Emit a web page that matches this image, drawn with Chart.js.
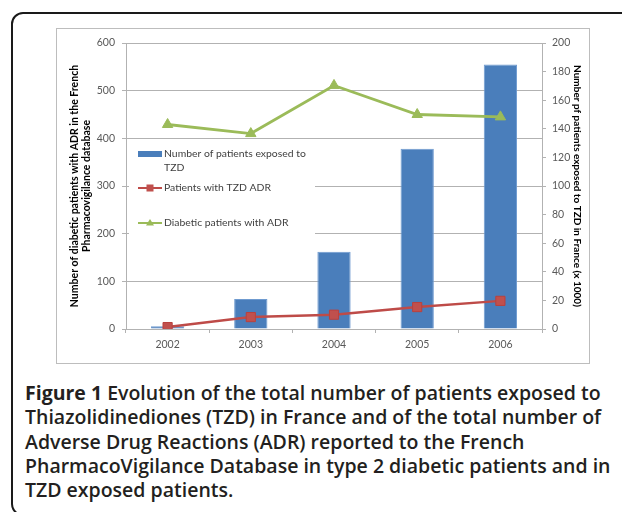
<!DOCTYPE html>
<html>
<head>
<meta charset="utf-8">
<script src="https://cdn.jsdelivr.net/npm/chart.js@4/dist/chart.umd.min.js"></script>
<style>
  html, body { margin: 0; padding: 0; background: #fff; }
  body { width: 622px; height: 512px; position: relative; overflow: hidden; }
  #frame {
    position: absolute; left: 11px; top: 12px; width: 700px; height: 500px;
    border: 2px solid #1a1a1a; border-radius: 12px;
  }
  #box {
    position: absolute; left: 56px; top: 28px; width: 532px; height: 334px;
    border: 1px solid #bdbdbd;
  }
  #chart { display: block; }
  #caption {
    position: absolute; left: 25px; top: 381px; width: 596px;
    font-family: "Open Sans", Lato, sans-serif; font-size: 19.5px; line-height: 24.3px;
    font-weight: 600; color: #231f20; white-space: nowrap;
  }
  #caption b { font-weight: 700; }
</style>
</head>
<body>
<div id="frame"></div>
<div id="box"><canvas id="chart" width="532" height="334"></canvas></div>
<div id="caption">
  <b>Figure 1</b> Evolution of the total number of patients exposed to<br>
  Thiazolidinediones (TZD) in France and of the total number of<br>
  Adverse Drug Reactions (ADR) reported to the French<br>
  PharmacoVigilance Database in type 2 diabetic patients and in<br>
  TZD exposed patients.
</div>
<script>
// 데이터
const years = ['2002', '2003', '2004', '2005', '2006'];
const exposedThousands = [2, 21, 54, 126, 185];   // 오른쪽 축 (x 1000)
const tzdAdr = [4, 25, 30, 46, 59];               // 왼쪽 축
const diabeticAdr = [429, 410, 511, 450, 445];    // 왼쪽 축

const legendLabels = [
  ['Number of patients exposed to', 'TZD'],
  ['Patients with TZD ADR'],
  ['Diabetic patients with ADR']
];

const leftTitle = ['Number of diabetic patients with ADR in the French', 'Pharmacovigilance database'];
const rightTitle = 'Number pf patients exposed to TZD in France (x 1000)';

const BLUE = '#4a7ebb';
const RED = '#be4b48';
const GREEN = '#9bbb59';
const GRID = '#b2b2b2';
const TICK = '#595959';
const FONT = 'Lato, "Open Sans", sans-serif';

Chart.defaults.font.family = FONT;
Chart.defaults.font.size = 10.5;
Chart.defaults.color = TICK;

// 차트 영역 안쪽 범례 (엑셀 스타일)
const insideLegend = {
  id: 'insideLegend',
  beforeDatasetsDraw(chart) {
    // 범례 뒤 흰 배경 (격자선 가림)
    const ctx = chart.ctx;
    ctx.save();
    ctx.fillStyle = '#fff';
    ctx.fillRect(72, 113, 186, 98);
    ctx.restore();
  },
  afterDatasetsDraw(chart) {
    const ctx = chart.ctx;
    const x0 = 81, x1 = 105, tx = 107;
    const rows = [125, 159, 194];
    ctx.save();

    // 막대
    ctx.fillStyle = BLUE;
    ctx.fillRect(x0, rows[0] - 3, x1 - x0, 6);

    // 빨간 선 + 사각형
    ctx.strokeStyle = RED;
    ctx.lineWidth = 2;
    ctx.beginPath(); ctx.moveTo(x0, rows[1]); ctx.lineTo(x1, rows[1]); ctx.stroke();
    ctx.fillStyle = '#c0504d';
    ctx.fillRect(89.5, rows[1] - 3.5, 7, 7);

    // 초록 선 + 삼각형
    ctx.strokeStyle = GREEN;
    ctx.beginPath(); ctx.moveTo(x0, rows[2]); ctx.lineTo(x1, rows[2]); ctx.stroke();
    ctx.fillStyle = GREEN;
    ctx.beginPath();
    ctx.moveTo(93, rows[2] - 4); ctx.lineTo(97, rows[2] + 2.5); ctx.lineTo(89, rows[2] + 2.5);
    ctx.closePath(); ctx.fill();

    ctx.font = '10.4px ' + FONT;
    ctx.fillStyle = '#404040';
    ctx.textBaseline = 'middle';
    ctx.textAlign = 'left';
    legendLabels.forEach((lines, i) => {
      lines.forEach((t, j) => ctx.fillText(t, tx, rows[i] + j * 13.5));
    });
    ctx.restore();
  }
};

new Chart(document.getElementById('chart'), {
  data: {
    labels: years,
    datasets: [
      {
        type: 'line',
        label: legendLabels[2].join(' '),
        data: diabeticAdr,
        yAxisID: 'y',
        borderColor: GREEN,
        backgroundColor: GREEN,
        borderWidth: 2.8,
        pointStyle: 'triangle',
        pointRadius: 6,
        pointBorderWidth: 1,
        tension: 0,
        order: 1
      },
      {
        type: 'line',
        label: legendLabels[1].join(' '),
        data: tzdAdr,
        yAxisID: 'y',
        borderColor: RED,
        backgroundColor: '#c0504d',
        pointBorderColor: '#b9413e',
        borderWidth: 2.5,
        pointStyle: 'rect',
        pointRadius: 6.5,
        pointBorderWidth: 1,
        tension: 0,
        order: 2
      },
      {
        type: 'bar',
        label: legendLabels[0].join(' '),
        data: exposedThousands,
        yAxisID: 'y1',
        backgroundColor: BLUE,
        borderColor: '#6f9bd0',
        borderWidth: 1,
        barPercentage: 0.4,
        categoryPercentage: 1,
        order: 3
      }
    ]
  },
  options: {
    responsive: false,
    animation: false,
    layout: { padding: { top: 14, left: 0, right: 0, bottom: 0 } },
    plugins: {
      legend: { display: false },
      tooltip: { enabled: false }
    },
    scales: {
      x: {
        offset: true,
        grid: { offset: true, drawOnChartArea: false, color: GRID, tickLength: 4 },
        border: { color: GRID },
        ticks: { padding: 5, color: TICK },
        afterFit(s) { s.height = 34; }
      },
      y: {
        position: 'left',
        min: 0,
        max: 600,
        ticks: { stepSize: 100, padding: 7, color: TICK },
        grid: { color: GRID, tickLength: 4 },
        border: { color: GRID },
        title: {
          display: true,
          text: leftTitle,
          color: '#000',
          font: { size: 10.5, weight: 'bold' },
          padding: { top: 11, bottom: 0 }
        },
        afterFit(s) { s.width = 69; }
      },
      y1: {
        position: 'right',
        min: 0,
        max: 200,
        ticks: { stepSize: 20, padding: 6, color: TICK },
        grid: { drawOnChartArea: false, color: GRID, tickLength: 4 },
        border: { color: GRID },
        title: {
          display: true,
          text: rightTitle,
          color: '#000',
          font: { size: 10, weight: 'bold' },
          padding: { top: 6, bottom: 0 }
        },
        afterFit(s) { s.width = 47; }
      }
    }
  },
  plugins: [insideLegend]
});
</script>
</body>
</html>
